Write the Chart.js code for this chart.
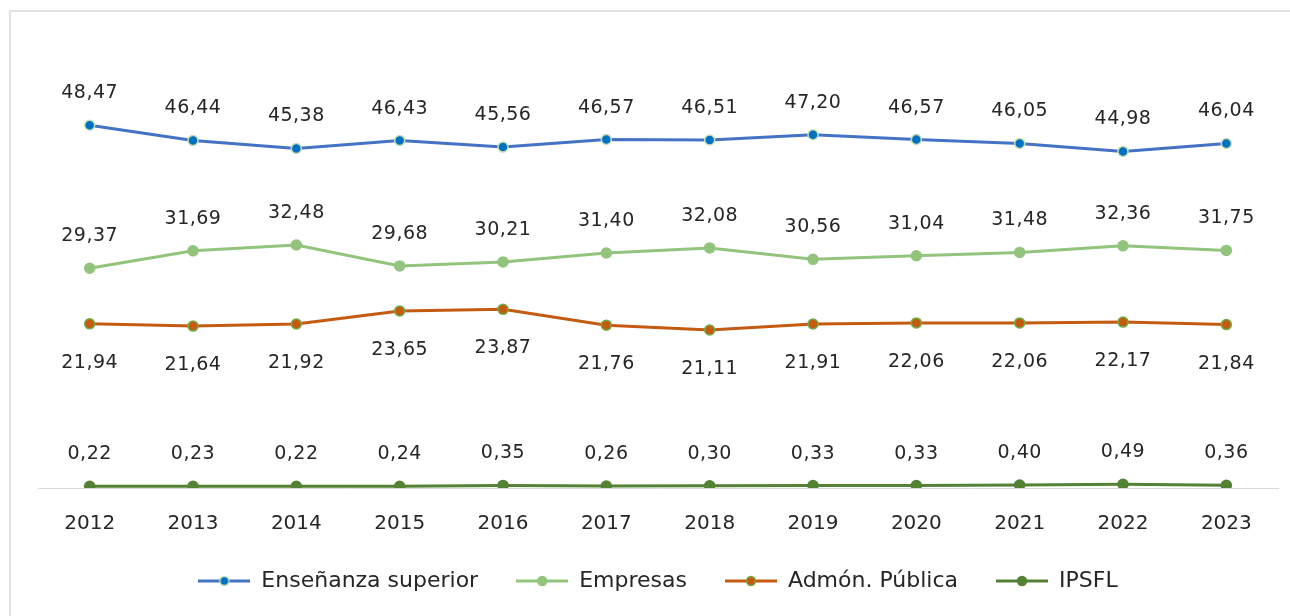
<!DOCTYPE html>
<html>
<head>
<meta charset="utf-8">
<script src="https://cdn.jsdelivr.net/npm/chart.js@4/dist/chart.umd.min.js"></script>
<style>
  body { margin: 0; background: #fff; overflow: hidden; }
  #wrap { position: relative; width: 1290px; height: 616px; overflow: hidden; }
  #frame { position: absolute; left: 9px; top: 10px; width: 1400px; height: 800px; border: 2px solid #e3e3e3; }
  canvas { position: absolute; left: 0; top: 0; }
</style>
</head>
<body>
<div id="wrap">
  <div id="frame"></div>
  <canvas id="linechart" width="1290" height="616"></canvas>
</div>
<script>
const years = ['2012', '2013', '2014', '2015', '2016', '2017', '2018', '2019', '2020', '2021', '2022', '2023'];
const ensenanza = [48.47, 46.44, 45.38, 46.43, 45.56, 46.57, 46.51, 47.20, 46.57, 46.05, 44.98, 46.04];
const empresas = [29.37, 31.69, 32.48, 29.68, 30.21, 31.40, 32.08, 30.56, 31.04, 31.48, 32.36, 31.75];
const admon = [21.94, 21.64, 21.92, 23.65, 23.87, 21.76, 21.11, 21.91, 22.06, 22.06, 22.17, 21.84];
const ipsfl = [0.22, 0.23, 0.22, 0.24, 0.35, 0.26, 0.30, 0.33, 0.33, 0.40, 0.49, 0.36];

// little line + dot sample for the legend
function legendIcon(line, fill, border) {
    let c = document.createElement('canvas');
    c.width = 52; c.height = 14;
    let g = c.getContext('2d');
    g.strokeStyle = line; g.lineWidth = 3;
    g.beginPath(); g.moveTo(0, 7); g.lineTo(52, 7); g.stroke();
    g.fillStyle = fill; g.strokeStyle = border; g.lineWidth = 1.5;
    g.beginPath(); g.arc(26, 7, 4.5, 0, Math.PI * 2); g.fill(); g.stroke();
    return c;
}

// value labels, above or below each point
const valueLabels = {
    id: 'valueLabels',
    afterLayout(chart) {
        // pull the legend up a bit, closer to the year labels
        chart.legend.top -= 28;
        chart.legend.bottom -= 28;
    },
    afterDatasetsDraw(chart) {
        let ctx = chart.ctx;
        ctx.save();
        ctx.font = '19px "DejaVu Sans"';
        ctx.letterSpacing = '0.5px';
        ctx.fillStyle = '#262626';
        ctx.textAlign = 'center';
        ctx.textBaseline = 'alphabetic';
        chart.data.datasets.forEach((ds, i) => {
            chart.getDatasetMeta(i).data.forEach((pt, j) => {
                let txt = ds.data[j].toFixed(2).replace('.', ',');
                let y = ds.labelBelow ? pt.y + 44 : pt.y - 27;
                ctx.fillText(txt, pt.x, y);
            });
        });
        ctx.restore();
    }
};

let chart = new Chart(document.getElementById('linechart').getContext('2d'), {
    type: 'line',
    data: {
        labels: years,
        datasets: [{
            label: 'Enseñanza superior',
            data: ensenanza,
            borderColor: '#4472C4',
            pointBackgroundColor: '#0070C0',
            pointBorderColor: '#C5E0B4',
            icon: legendIcon('#4472C4', '#0070C0', '#C5E0B4')
        }, {
            label: 'Empresas',
            data: empresas,
            borderColor: '#93C47D',
            pointBackgroundColor: '#93C47D',
            pointBorderColor: '#93C47D',
            icon: legendIcon('#93C47D', '#93C47D', '#93C47D')
        }, {
            label: 'Admón. Pública',
            data: admon,
            borderColor: '#C55A11',
            pointBackgroundColor: '#C55A11',
            pointBorderColor: '#70AD47',
            labelBelow: true,
            icon: legendIcon('#C55A11', '#C55A11', '#70AD47')
        }, {
            label: 'IPSFL',
            data: ipsfl,
            borderColor: '#548235',
            pointBackgroundColor: '#548235',
            pointBorderColor: '#548235',
            icon: legendIcon('#548235', '#548235', '#548235')
        }]
    },
    options: {
        responsive: false,
        animation: false,
        layout: { padding: { left: 38, right: 12, top: 39, bottom: -14 } },
        elements: {
            line: { borderWidth: 3, tension: 0 },
            point: { radius: 5, borderWidth: 1.5 }
        },
        scales: {
            x: {
                offset: true,
                grid: { display: false, drawTicks: false },
                border: { display: true, color: '#d9d9d9', width: 1 },
                ticks: { padding: 24, color: '#262626', font: { family: 'DejaVu Sans', size: 20 } }
            },
            y: {
                display: false,
                min: 0,
                max: 60
            }
        },
        plugins: {
            tooltip: { enabled: false },
            legend: {
                position: 'bottom',
                labels: {
                    usePointStyle: true,
                    pointStyleWidth: 52,
                    padding: 38,
                    color: '#262626',
                    font: { family: 'DejaVu Sans', size: 22 },
                    generateLabels(chart) {
                        let items = Chart.defaults.plugins.legend.labels.generateLabels(chart);
                        items.forEach(it => { it.pointStyle = chart.data.datasets[it.datasetIndex].icon; });
                        return items;
                    }
                }
            }
        }
    },
    plugins: [valueLabels]
});
</script>
</body>
</html>
